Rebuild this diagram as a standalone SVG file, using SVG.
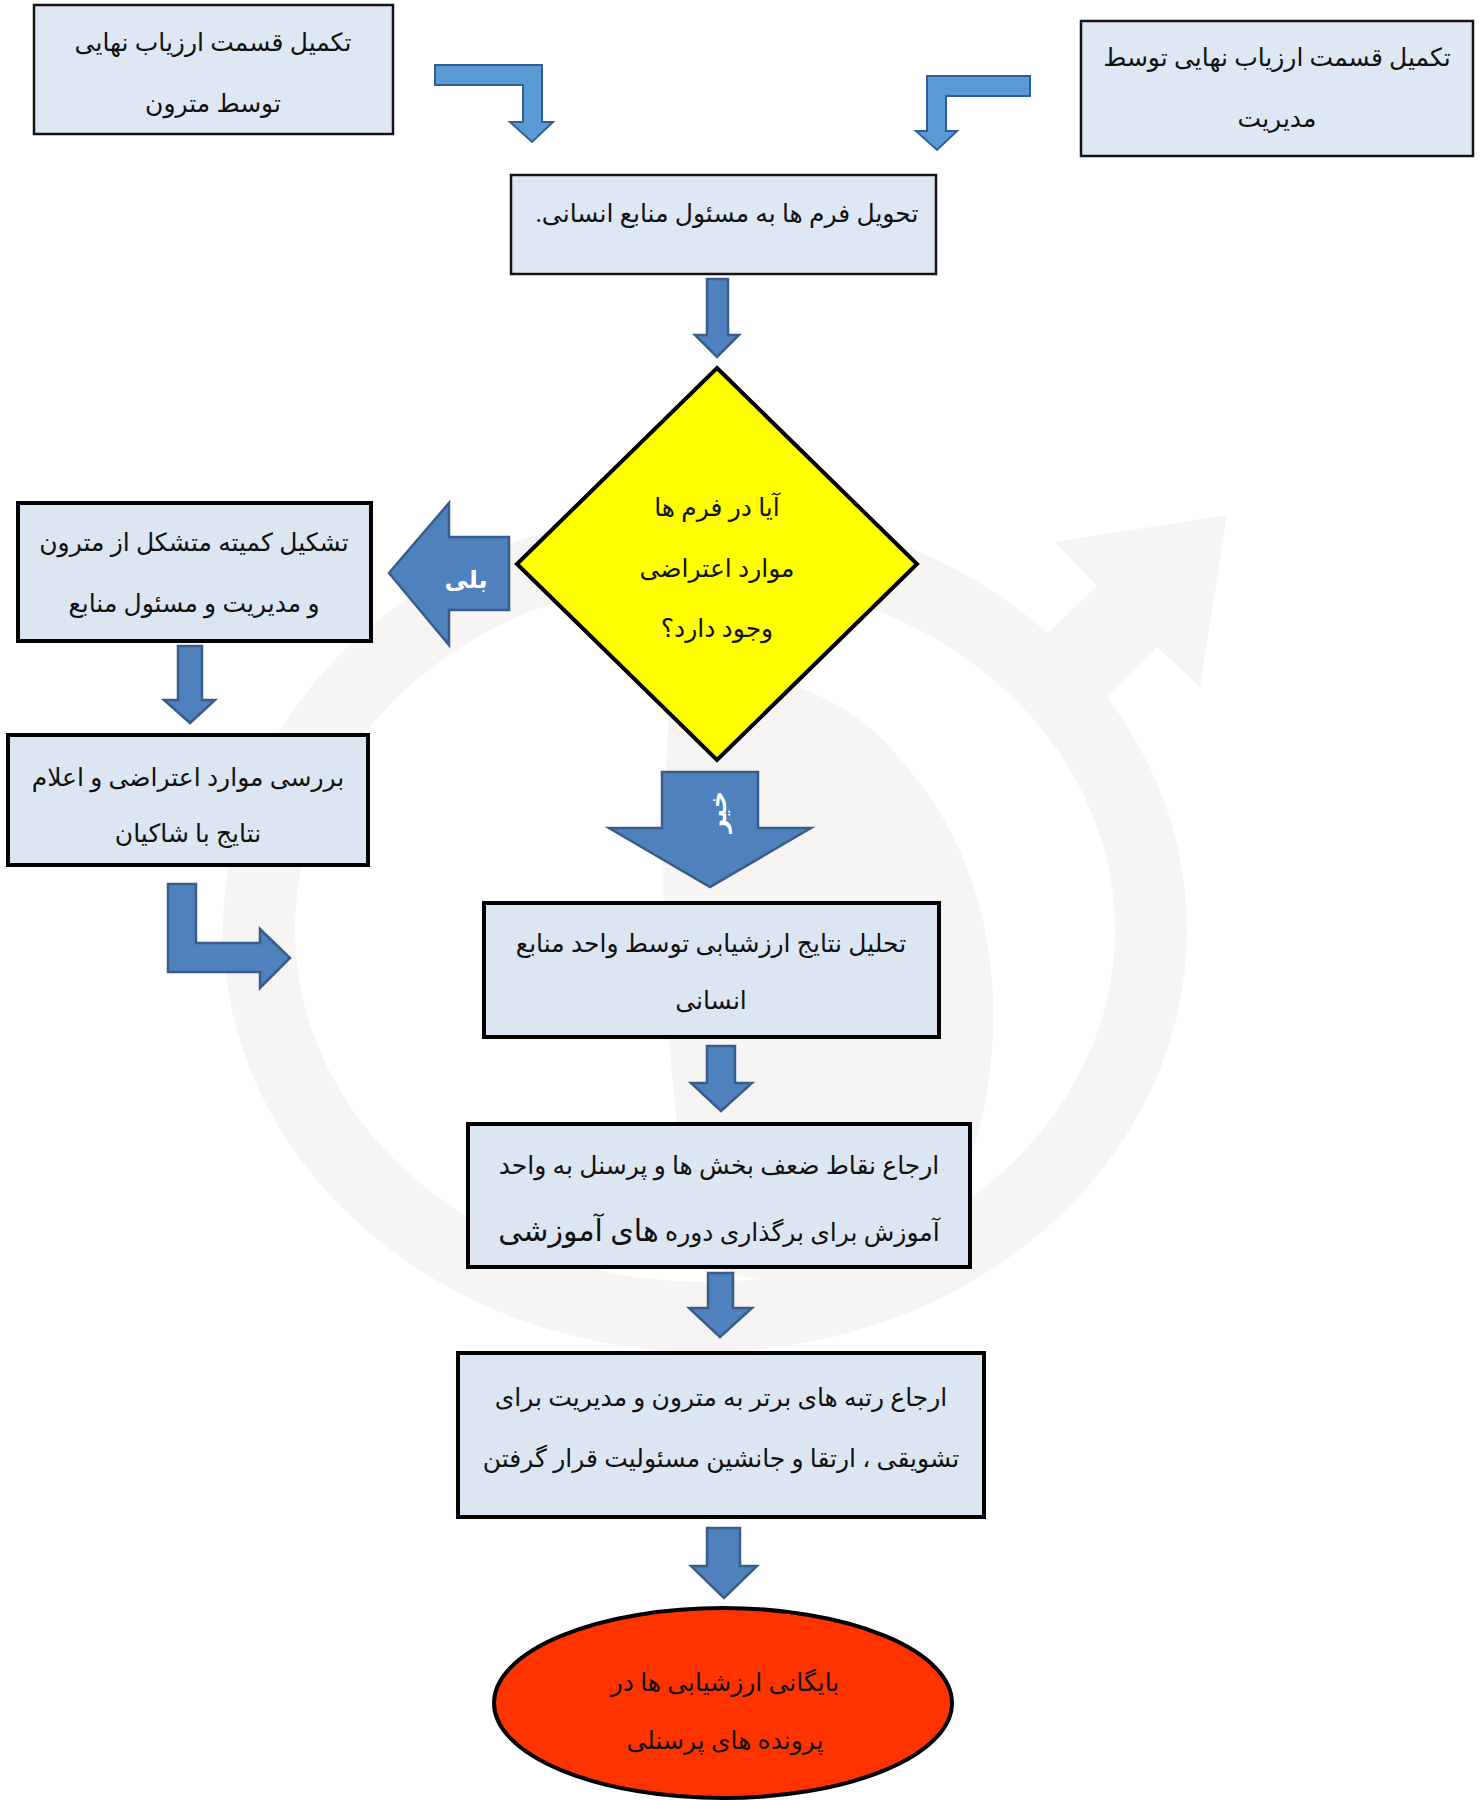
<svg xmlns="http://www.w3.org/2000/svg" width="1482" height="1800" viewBox="0 0 1482 1800">
  <defs>
    <style>
      .bg { fill: #ffffff; }
      .mark { fill: #f7f5f3; }
      .box { fill: #dce6f2; stroke: #000000; stroke-width: 4; }
      .box-thin { fill: #dee8f4; stroke: #141414; stroke-width: 2.5; }
      .decision { fill: #ffff00; stroke: #000000; stroke-width: 4; stroke-linejoin: miter; }
      .terminal { fill: #ff3300; stroke: #000000; stroke-width: 4; }
      .arrow { fill: #4f81bd; stroke: #385d8a; stroke-width: 2.5; stroke-linejoin: miter; }
      .arrow-light { fill: #5b9bd5; stroke: #2f5f93; stroke-width: 2; stroke-linejoin: miter; }
      .label { font-family: "Liberation Serif", "DejaVu Sans", serif; font-size: 25px; fill: #111111; text-anchor: middle; direction: rtl; }
      .tag { font-family: "DejaVu Sans", sans-serif; font-size: 24px; font-weight: bold; fill: #ffffff; text-anchor: middle; direction: rtl; }
    </style>
  </defs>

  <rect class="bg" x="0" y="0" width="1482" height="1800"/>

  <!-- faint background emblem: oval ring, inner swirl and an outward arrow -->
  <g id="emblem">
    <path class="mark" d="M 670 700 C 740 650 850 690 905 765 C 975 845 1000 950 992 1050 C 985 1150 950 1220 900 1260 C 820 1290 740 1285 700 1260 C 665 1100 655 900 670 700 Z"/>
    <path class="mark" fill-rule="evenodd" d="M 223 930 A 482 422 0 1 0 1187 930 A 482 422 0 1 0 223 930 Z M 295 930 A 410 352 0 1 1 1115 930 A 410 352 0 1 1 295 930 Z"/>
    <polygon class="mark" points="1030,650 1097,586 1055,542 1227,515 1200,687 1157,647 1105,700 1080,700"/>
  </g>

  <!-- connectors -->
  <g id="connectors">
    <polygon class="arrow-light" points="435,65 542,65 542,122 553,122 532,142 510,122 523,122 523,85 435,85"/>
    <polygon class="arrow-light" points="1030,76 1030,96 946,96 946,131 957,131 937,150 916,131 927,131 927,76"/>
    <polygon class="arrow" points="707,279 728,279 728,335 739,335 717,357 695,335 707,335"/>
    <g id="yes-arrow">
      <polygon class="arrow" points="509,537 509,610 449,610 449,645 389,573 449,503 449,537"/>
      <text class="tag" x="466" y="588">بلی</text>
    </g>
    <polygon class="arrow" points="178,646 202,646 202,700 215,700 190,723 164,700 178,700"/>
    <polygon class="arrow" points="168,884 196,884 196,943 260,943 260,929 290,958 260,988 260,972 168,972"/>
    <g id="no-arrow">
      <polygon class="arrow" points="662,772 758,772 758,828 811,828 710,887 609,828 662,828"/>
      <text class="tag" font-size="22" transform="translate(718,812) rotate(-90)" y="8">خیر</text>
    </g>
    <polygon class="arrow" points="707,1046 735,1046 735,1083 752,1083 721,1111 691,1083 707,1083"/>
    <polygon class="arrow" points="708,1273 733,1273 733,1308 752,1308 720,1337 689,1308 708,1308"/>
    <polygon class="arrow" points="707,1528 740,1528 740,1566 757,1566 724,1598 691,1566 707,1566"/>
  </g>

  <!-- process steps -->
  <g id="node-supervisor-form">
    <rect class="box-thin" x="34" y="5" width="359" height="129"/>
    <text class="label" x="213" y="51">تکمیل قسمت ارزیاب نهایی</text>
    <text class="label" x="213" y="112">توسط مترون</text>
  </g>

  <g id="node-management-form">
    <rect class="box-thin" x="1081" y="21" width="392" height="135"/>
    <text class="label" x="1277" y="66">تکمیل قسمت ارزیاب نهایی توسط</text>
    <text class="label" x="1277" y="127">مدیریت</text>
  </g>

  <g id="node-handover">
    <rect class="box-thin" x="511" y="175" width="425" height="99"/>
    <text class="label" x="727" y="222">تحویل فرم ها به مسئول منابع انسانی.</text>
  </g>

  <g id="node-decision">
    <polygon class="decision" points="717,368 917,564 717,760 517,564"/>
    <text class="label" x="717" y="516">آیا در فرم ها</text>
    <text class="label" x="717" y="577">موارد اعتراضی</text>
    <text class="label" x="717" y="637">وجود دارد؟</text>
  </g>

  <g id="node-committee">
    <rect class="box" x="18" y="503" width="353" height="138"/>
    <text class="label" x="194" y="551">تشکیل کمیته متشکل از مترون</text>
    <text class="label" x="194" y="612">و مدیریت و مسئول منابع</text>
  </g>

  <g id="node-review">
    <rect class="box" x="8" y="735" width="360" height="130"/>
    <text class="label" x="188" y="786">بررسی موارد اعتراضی و اعلام</text>
    <text class="label" x="188" y="842">نتایج با شاکیان</text>
  </g>

  <g id="node-analysis">
    <rect class="box" x="484" y="903" width="455" height="134"/>
    <text class="label" x="711" y="952">تحلیل نتایج ارزشیابی توسط واحد منابع</text>
    <text class="label" x="711" y="1009">انسانی</text>
  </g>

  <g id="node-training">
    <rect class="box" x="468" y="1124" width="502" height="143"/>
    <text class="label" x="719" y="1174">ارجاع نقاط ضعف بخش ها و پرسنل به واحد</text>
    <text class="label" x="719" y="1241">آموزش برای برگذاری دوره <tspan font-size="30">های آموزشی</tspan></text>
  </g>

  <g id="node-promotion">
    <rect class="box" x="458" y="1353" width="526" height="164"/>
    <text class="label" x="721" y="1406">ارجاع رتبه های برتر به مترون و مدیریت برای</text>
    <text class="label" x="721" y="1467">تشویقی ، ارتقا و جانشین مسئولیت قرار گرفتن</text>
  </g>

  <g id="node-archive">
    <ellipse class="terminal" cx="723" cy="1703" rx="229" ry="95"/>
    <text class="label" x="725" y="1691">بایگانی ارزشیابی ها در</text>
    <text class="label" x="725" y="1749">پرونده های پرسنلی</text>
  </g>
</svg>
